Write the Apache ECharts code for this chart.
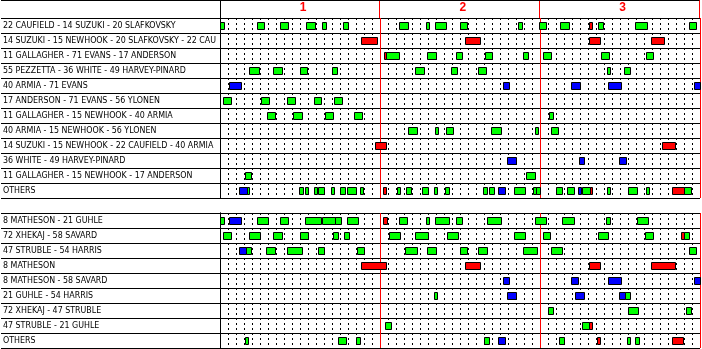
<!DOCTYPE html>
<html><head><meta charset="utf-8">
<script src="https://cdn.jsdelivr.net/npm/echarts@6/dist/echarts.min.js"></script>
<style>html,body{margin:0;padding:0;background:#fff}#c{width:702px;height:349px}</style>
</head><body><div id="c"></div>
<script>
// ---- data ----
const periodLabels = ['1', '2', '3'];
const periodCenters = [10, 30, 50];
const forwardLines = [
  '22 CAUFIELD - 14 SUZUKI - 20 SLAFKOVSKY',
  '14 SUZUKI - 15 NEWHOOK - 20 SLAFKOVSKY - 22 CAUFIELD',
  '11 GALLAGHER - 71 EVANS - 17 ANDERSON',
  '55 PEZZETTA - 36 WHITE - 49 HARVEY-PINARD',
  '40 ARMIA - 71 EVANS',
  '17 ANDERSON - 71 EVANS - 56 YLONEN',
  '11 GALLAGHER - 15 NEWHOOK - 40 ARMIA',
  '40 ARMIA - 15 NEWHOOK - 56 YLONEN',
  '14 SUZUKI - 15 NEWHOOK - 22 CAUFIELD - 40 ARMIA',
  '36 WHITE - 49 HARVEY-PINARD',
  '11 GALLAGHER - 15 NEWHOOK - 17 ANDERSON',
  'OTHERS'
];
const defensePairs = [
  '8 MATHESON - 21 GUHLE',
  '72 XHEKAJ - 58 SAVARD',
  '47 STRUBLE - 54 HARRIS',
  '8 MATHESON',
  '8 MATHESON - 58 SAVARD',
  '21 GUHLE - 54 HARRIS',
  '72 XHEKAJ - 47 STRUBLE',
  '47 STRUBLE - 21 GUHLE',
  'OTHERS'
];
// [row, start minute, end minute, strength]  EV = even, PP = power play, SH = short-handed
const forwardShifts = [
  [0,0,0.55,'EV'],[0,4.66,5.46,'EV'],[0,7.54,8.54,'EV'],[0,10.79,11.91,'EV'],[0,12.75,13.29,'EV'],[0,15.41,16.04,'EV'],
  [0,22.41,23.46,'EV'],[0,25.75,26.09,'EV'],[0,26.91,28.29,'EV'],[0,30.0,30.84,'EV'],[0,37.29,37.75,'EV'],[0,39.91,40.71,'EV'],
  [0,42.54,43.59,'EV'],[0,46.13,46.46,'PP'],[0,47.29,47.84,'EV'],[0,51.91,53.41,'EV'],[0,58.66,59.46,'EV'],
  [1,17.67,19.58,'PP'],[1,30.63,32.46,'PP'],[1,46.13,47.46,'PP'],[1,53.88,55.46,'PP'],
  [2,20.54,20.7,'PP'],[2,20.7,22.33,'EV'],[2,25.92,26.96,'EV'],[2,29.5,30.2,'EV'],[2,33.13,33.96,'EV'],[2,37.91,38.46,'EV'],
  [2,40.38,41.33,'EV'],[2,47.66,48.59,'EV'],[2,53.25,54.09,'EV'],
  [3,3.66,4.84,'EV'],[3,6.66,7.71,'EV'],[3,10.04,10.84,'EV'],[3,14.0,14.59,'EV'],[3,24.38,25.46,'EV'],[3,28.91,29.66,'EV'],
  [3,32.29,33.21,'EV'],[3,48.34,48.71,'EV'],[3,50.54,51.21,'EV'],
  [4,1.13,2.59,'SH'],[4,35.41,36.09,'SH'],[4,43.91,44.96,'SH'],[4,48.54,50.09,'SH'],[4,59.29,60,'SH'],
  [5,0.41,1.34,'EV'],[5,5.16,6.16,'EV'],[5,8.41,9.34,'EV'],[5,11.79,12.59,'EV'],[5,14.29,15.21,'EV'],
  [6,5.91,6.84,'EV'],[6,9.16,10.21,'EV'],[6,13.16,14.09,'EV'],[6,16.79,17.71,'EV'],[6,41.13,41.59,'EV'],
  [7,23.5,24.63,'EV'],[7,26.88,27.21,'EV'],[7,28.25,29.09,'EV'],[7,33.88,35.09,'EV'],[7,39.38,39.71,'EV'],[7,41.38,42.21,'EV'],
  [8,19.38,20.71,'PP'],[8,55.25,56.83,'PP'],
  [9,35.88,36.96,'SH'],[9,44.88,45.46,'SH'],[9,49.88,50.71,'SH'],
  [10,3.13,3.84,'EV'],[10,38.25,39.33,'EV'],
  [11,2.41,3.4,'SH'],[11,3.4,3.6,'EV'],[11,9.88,10.34,'EV'],[11,10.63,10.96,'EV'],[11,11.75,12.09,'EV'],[11,12.25,12.96,'EV'],
  [11,13.88,14.21,'EV'],[11,15.0,15.59,'EV'],[11,15.91,16.96,'EV'],[11,17.5,17.84,'EV'],[11,20.38,20.71,'PP'],[11,22.13,22.46,'EV'],
  [11,23.25,23.84,'EV'],[11,25.25,25.96,'EV'],[11,26.75,27.09,'EV'],[11,28.13,28.63,'EV'],[11,32.88,33.34,'EV'],[11,33.66,34.21,'EV'],
  [11,34.79,35.59,'SH'],[11,36.79,38.09,'EV'],[11,39.16,39.54,'EV'],[11,39.54,40.04,'EV'],[11,42.0,42.71,'EV'],[11,43.38,44.21,'EV'],
  [11,44.75,45.09,'SH'],[11,45.25,46.2,'EV'],[11,46.2,46.34,'PP'],[11,48.38,48.71,'EV'],[11,51.04,52.09,'EV'],[11,53.25,53.59,'EV'],
  [11,56.54,58.0,'PP'],[11,58.0,58.84,'EV']
];
const defenseShifts = [
  [0,0,0.54,'EV'],[0,1.16,2.59,'SH'],[0,4.66,5.96,'EV'],[0,7.54,8.54,'EV'],[0,10.66,12.59,'EV'],[0,12.79,14.38,'EV'],
  [0,14.38,15.09,'EV'],[0,15.91,17.21,'EV'],[0,20.41,20.84,'PP'],[0,22.41,23.34,'EV'],[0,25.75,26.09,'EV'],[0,26.91,28.59,'EV'],
  [0,29.5,30.21,'EV'],[0,33.41,35.09,'EV'],[0,39.41,40.71,'EV'],[0,42.79,44.21,'EV'],[0,48.29,48.71,'EV'],[0,52.13,53.46,'EV'],
  [1,0.41,1.34,'EV'],[1,3.66,4.96,'EV'],[1,6.66,7.71,'EV'],[1,10.04,10.96,'EV'],[1,14.16,14.71,'EV'],[1,15.54,16.09,'EV'],
  [1,21.16,22.46,'EV'],[1,24.41,25.96,'EV'],[1,28.41,29.71,'EV'],[1,36.79,38.09,'EV'],[1,40.38,41.21,'EV'],[1,47.29,48.46,'EV'],
  [1,53.16,54.09,'EV'],[1,57.66,58.0,'PP'],[1,58.0,58.59,'EV'],
  [2,2.41,3.25,'SH'],[2,3.25,3.84,'EV'],[2,5.79,6.84,'EV'],[2,8.41,10.21,'EV'],[2,12.29,12.96,'EV'],[2,17.16,17.96,'EV'],
  [2,23.13,24.59,'EV'],[2,25.91,26.96,'EV'],[2,30.04,30.84,'EV'],[2,32.29,33.34,'EV'],[2,37.91,39.59,'EV'],[2,41.38,42.71,'EV'],
  [2,58.66,59.46,'EV'],
  [3,17.67,20.71,'PP'],[3,30.63,32.46,'PP'],[3,46.13,47.46,'PP'],[3,53.88,56.83,'PP'],
  [4,35.41,36.09,'SH'],[4,43.91,44.71,'SH'],[4,48.54,50.09,'SH'],[4,59.29,60,'SH'],
  [5,26.75,27.09,'EV'],[5,35.88,36.96,'SH'],[5,44.38,45.46,'SH'],[5,49.88,50.63,'SH'],[5,50.63,51.21,'EV'],
  [6,41.0,41.59,'EV'],[6,51.0,52.21,'EV'],[6,58.25,58.84,'EV'],
  [7,20.66,21.34,'EV'],[7,45.25,46.16,'EV'],[7,46.16,46.46,'PP'],
  [8,3.13,3.5,'EV'],[8,14.75,15.71,'EV'],[8,17.04,17.46,'EV'],[8,33.0,33.59,'EV'],[8,34.79,35.59,'SH'],[8,42.38,42.96,'EV'],
  [8,47.13,47.46,'PP'],[8,50.88,51.25,'EV'],[8,51.88,52.34,'EV'],[8,56.54,57.84,'PP']
];
const strengthColors = { EV: '#00ff00', PP: '#ff0000', SH: '#0000ff' };

// ---- chart ----
const FONT = '"DejaVu Sans Condensed", "Liberation Sans Narrow", sans-serif';
const chart = echarts.init(document.getElementById('c'), null, { renderer: 'canvas' });

const grids = [
  { left: 220, top: 0, width: 480, height: 18 },
  { left: 220, top: 18, width: 480, height: 180 },
  { left: 220, top: 213, width: 480, height: 135 }
];

const xAxes = [];
const yAxes = [];
const series = [];

function minuteAxis(g) {
  return { gridIndex: g, type: 'value', min: 0, max: 60, interval: 1,
    axisLine: { show: false }, axisTick: { show: false }, axisLabel: { show: false },
    splitLine: { show: true, showMinLine: false, lineStyle: { color: '#000', width: 1, type: [2, 3] } } };
}
function periodAxis(g) {
  return { gridIndex: g, type: 'value', min: 0, max: 60, interval: 20,
    axisLine: { show: false }, axisTick: { show: false }, axisLabel: { show: false },
    splitLine: { show: true, showMinLine: false, lineStyle: { color: '#ff0000', width: 1, type: 'solid' } } };
}
function rowAxis(g, labels, showLabels) {
  return { gridIndex: g, type: 'category', inverse: true, data: labels, offset: 1,
    axisLine: { show: true, lineStyle: { color: '#000', width: 1 } },
    axisTick: { show: true, length: 219, lineStyle: { color: '#000', width: 1 } },
    axisLabel: { show: showLabels, align: 'left', margin: 216, color: '#000', fontFamily: FONT, fontSize: 8.8,
      width: 215, overflow: 'truncate', ellipsis: '' },
    splitLine: { show: showLabels, lineStyle: { color: '#000', width: 1 } } };
}
function borderAxis(g, labels) {
  return { gridIndex: g, type: 'category', inverse: true, data: labels, offset: 220,
    axisLine: { show: true, lineStyle: { color: '#000', width: 1 } },
    axisTick: { show: false }, axisLabel: { show: false }, splitLine: { show: false } };
}

// header grid
xAxes.push({ gridIndex: 0, type: 'value', min: 0, max: 60, interval: 10, position: 'top',
  axisLine: { show: true, lineStyle: { color: '#000', width: 1 } }, axisTick: { show: false },
  axisLabel: { show: true, inside: true, margin: 2, color: '#ff0000', fontFamily: '"Liberation Sans", Arial, sans-serif',
    fontSize: 12, fontWeight: 'bold', align: 'left', verticalAlign: 'top',
    formatter: v => { const i = periodCenters.indexOf(v); return i >= 0 ? periodLabels[i] : ''; } },
  splitLine: { show: false } });
xAxes.push(periodAxis(0));
yAxes.push(rowAxis(0, [''], false));
yAxes.push(borderAxis(0, ['']));

// tables
const tables = [ { g: 1, labels: forwardLines, shifts: forwardShifts }, { g: 2, labels: defensePairs, shifts: defenseShifts } ];
tables.forEach(t => {
  const xi = xAxes.length;
  xAxes.push(minuteAxis(t.g));
  xAxes.push(periodAxis(t.g));
  const yi = yAxes.length;
  yAxes.push(rowAxis(t.g, t.labels, true));
  yAxes.push(borderAxis(t.g, t.labels));
  series.push({
    type: 'custom', xAxisIndex: xi, yAxisIndex: yi, animation: false, silent: true,
    encode: { x: [1, 2], y: 0 },
    data: t.shifts.map(s => [s[0], s[1], s[2]]),
    renderItem: (params, api) => {
      const s = t.shifts[params.dataIndex];
      const a = api.coord([api.value(1), api.value(0)]);
      const b = api.coord([api.value(2), api.value(0)]);
      const x1 = Math.round(a[0]), x2 = Math.round(b[0]);
      const top = Math.round(a[1] - 3.5);
      return { type: 'rect', z2: 10,
        shape: { x: x1 + 0.5, y: top + 0.5, width: Math.max(x2 - x1, 2), height: 7 },
        style: { fill: strengthColors[s[3]], stroke: '#000', lineWidth: 1 } };
    }
  });
});

chart.setOption({ animation: false, backgroundColor: '#fff', grid: grids, xAxis: xAxes, yAxis: yAxes, series: series });
</script></body></html>
